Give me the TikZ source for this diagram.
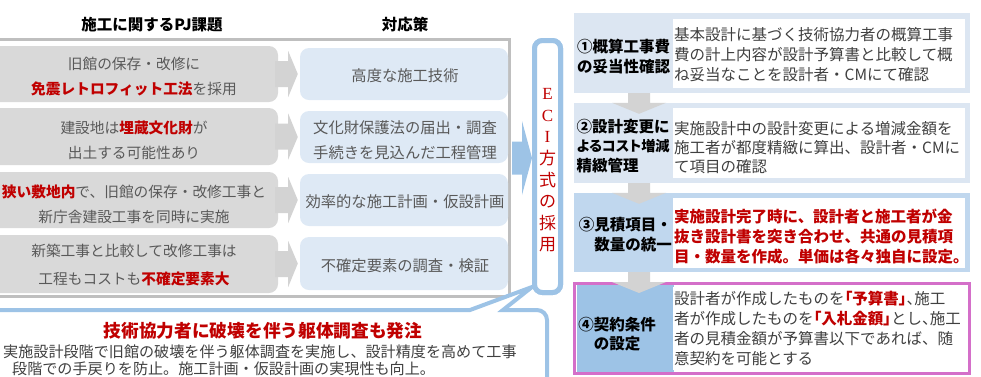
\documentclass[tikz,border=0pt]{standalone}
\usepackage{fontspec}
\setmainfont{Noto Sans CJK JP}
\newfontfamily\jpp[RawFeature=+palt]{Noto Sans CJK JP}
\newfontfamily\serifl{Liberation Serif}
\usetikzlibrary{calc}
\definecolor{gfill}{HTML}{D9D9D9}
\definecolor{framegray}{HTML}{BFBFBF}
\definecolor{agray}{HTML}{D3D3D3}
\definecolor{lblue}{HTML}{DEE9F5}
\definecolor{obox}{HTML}{DCE6F2}
\definecolor{mblue}{HTML}{C0D7EE}
\definecolor{bblue}{HTML}{9DC3E6}
\definecolor{ered}{HTML}{C00000}
\definecolor{tgray}{HTML}{595959}
\definecolor{dgray}{HTML}{404040}
\definecolor{mag}{HTML}{D46FC9}
\newcommand\redb[1]{\textcolor{ered}{\bfseries #1}}
\newcommand\hp[1]{{\jpp #1}}
\begin{document}
\begin{tikzpicture}[x=1pt,y=-1pt,
 lbox/.style={fill=gfill, rounded corners=9pt, minimum width=290pt, inner sep=0pt},
 rbox/.style={fill=lblue, rounded corners=9pt, minimum width=208pt, inner sep=0pt},
 ltext/.style={align=center, text=tgray, inner sep=0pt, font=\fontsize{14.7}{25}\selectfont},
 rtext/.style={align=center, text=tgray, inner sep=0pt, font=\fontsize{15.3}{25}\selectfont},
 hdr/.style={inner sep=0pt, font=\fontsize{15.5}{18}\selectfont\bfseries},
 chev/.style={fill=agray},
 obx/.style={fill=obox, minimum width=396pt, minimum height=80pt, inner sep=0pt},
 wbx/.style={fill=white, minimum width=292pt, inner sep=0pt},
 btext/.style={anchor=west, align=left, inner sep=0pt, text=dgray, font=\fontsize{15.5}{20}\selectfont},
 lbl/.style={inner sep=0pt, font=\fontsize{15.5}{19.5}\selectfont\bfseries},
 downarrow/.style={fill=agray}
]
\useasboundingbox (0,0) rectangle (981,376);
\clip (0,0) rectangle (981,376);

% headers
\node[hdr] (h1) at (152,24.5) {施工に関するPJ課題};
\node[hdr] (h2) at (405,24.5) {対応策};

% frame
\node[draw=framegray, line width=3pt, minimum width=514pt, minimum height=257pt, inner sep=0pt] (frame) at (252,168) {};

% left boxes
\node[lbox, minimum height=56pt] (l1) at (133,74) {};
\node[lbox, minimum height=57pt] (l2) at (133,136.5) {};
\node[lbox, minimum height=56pt] (l3) at (133,200) {};
\node[lbox, minimum height=58pt] (l4) at (133,264) {};
% right boxes
\node[rbox, minimum height=52pt] (r1) at (404,74) {};
\node[rbox, minimum height=52pt] (r2) at (404,137) {};
\node[rbox, minimum height=52pt] (r3) at (404,200) {};
\node[rbox, minimum height=53pt] (r4) at (404,263.5) {};

% chevrons
\foreach \i in {1,2,3,4}{
 \fill[chev] ($(l\i.east)+(-3,-13)$) -- ($(l\i.east)+(10,-13)$) -- ($(l\i.east)+(10,-23)$) -- ($(r\i.west)+(-2,0)$) -- ($(l\i.east)+(10,23)$) -- ($(l\i.east)+(10,13)$) -- ($(l\i.east)+(-3,13)$) -- cycle;
}

% row texts
\node[ltext] (l1t) at (134,76.5) {旧館の保存・改修に\\\redb{免震レトロフィット工法}を採用};
\node[ltext] (l2t) at (134,140) {建設地は\redb{埋蔵文化財}が\\出土する可能性あり};
\node[ltext] (l3t) at (134,204) {\redb{狭い敷地内}で、旧館の保存・改修工事と\\新庁舎建設工事を同時に実施};
\node[ltext, font=\fontsize{14.7}{28}\selectfont] (l4t) at (134,265.5) {新築工事と比較して改修工事は\\工程もコストも\redb{不確定要素大}};

\node[rtext] (r1t) at (405,75.5) {高度な施工技術};
\node[rtext] (r2t) at (405,140) {文化財保護法の届出・調査\\手続きを見込んだ工程管理};
\node[rtext] (r3t) at (405,201.5) {効率的な施工計画・仮設計画};
\node[rtext] (r4t) at (405,266) {不確定要素の調査・検証};

% ECI box
\node[draw=bblue, line width=5pt, rounded corners=8pt, fill=white, minimum width=26pt, minimum height=252pt, inner sep=0pt] (eci) at (547.5,166.5) {};

% callout
\coordinate (ctip) at ($(eci.south west)+(0,-8)$);
\draw[bblue, line width=4pt, fill=white] (-10,310) -- (470,310) -- (ctip) -- (503,310) -- (510,310) [rounded corners=10pt] -- (547,310) -- (547,430) -- (-10,430) -- cycle;
\node[inner sep=0pt, text=ered, font=\fontsize{17.7}{20}\selectfont\bfseries] (ct) at (263,331) {技術協力者に破壊を伴う躯体調査も発注};
\node[anchor=west, align=left, inner sep=0pt, text=dgray, font=\fontsize{15.1}{17}\selectfont] (cb) at (3,360.5) {実施設計段階で旧館の破壊を伴う躯体調査を実施し、設計精度を高めて工事\\\hspace*{9pt}段階での手戻りを防止。施工計画・仮設計画の実現性も向上。};

% ECI box redrawn over the pointer tip
\node[draw=bblue, line width=5pt, rounded corners=8pt, fill=white, minimum width=26pt, minimum height=252pt, inner sep=0pt] (eci2) at (eci.center) {};
\node[text=ered, align=center, inner sep=0pt, font=\fontsize{17}{21.6}\selectfont] (ecit) at (547.5,170.5) {{\serifl E}\\{\serifl C}\\{\serifl I}\\方\\式\\の\\採\\用};

% blue arrow
\coordinate (bt) at ($(eci.west)+(0,-8.5)$);
\fill[bblue] ($(bt)+(-20,-16.5)$) -- ($(bt)+(-10,-16.5)$) -- ($(bt)+(-10,-37)$) -- (bt) -- ($(bt)+(-10,37)$) -- ($(bt)+(-10,16.5)$) -- ($(bt)+(-20,16.5)$) -- cycle;

% right column
\node[obx] (b1) at (772,53) {};
\node[wbx, minimum height=69pt] (w1) at (819,53.5) {};
\node[obx] (b2) at (772,143) {};
\node[wbx, minimum height=70pt] (w2) at (819,143) {};
\node[obx, fill=mblue, minimum height=79pt] (b3) at (772,232.5) {};
\node[wbx, minimum height=70pt] (w3) at (819,233) {};
\node[draw=mag, line width=3pt, minimum width=395pt, minimum height=90pt, inner sep=0pt] (b4) at (772,328.5) {};
\node[fill=bblue, minimum width=97pt, minimum height=87pt, inner sep=0pt] (c4bg) at (625,328.5) {};
\node[wbx, minimum height=83pt] (w4) at (819,328.5) {};

% down arrows
\foreach \a/\b in {b1/b2,b2/b3,b3/b4}{
 \fill[downarrow] ($(\a.south)+(-144,0)$) -- ($(\b.north)+(-144,0)$) -- ($(\b.north)+(-160,0)$) -- ($(\b.north)+(-133,11)$) -- ($(\b.north)+(-106,0)$) -- ($(\b.north)+(-122,0)$) -- ($(\a.south)+(-122,0)$) -- cycle;
}

% labels
\node[lbl, anchor=west, align=left] (c1) at (577,56.5) {①概算工事費\\の妥当性確認};
\node[lbl, anchor=west, align=left, font=\jpp\fontsize{15.5}{19.5}\selectfont\bfseries] (c2) at (576.5,146) {②設計変更に\\{\fontsize{14.2}{19.5}\selectfont よるコスト増減}\\精緻管理};
\node[lbl, anchor=east, align=right] (c3) at (672,234.5) {③見積項目・\\数量の統一};
\node[lbl, align=center] (c4) at (617,334) {④契約条件\\の設定};

% texts
\node[btext] (t1) at (674,55) {基本設計に基づく技術協力者の概算工事\\費の計上内容が設計予算書と比較して概\\ね妥当なことを設計者・CMにて確認};
\node[btext, font=\fontsize{15.5}{19}\selectfont] (t2) at (674,147.5) {実施設計中の設計変更による増減金額を\\施工者が都度精緻に算出、設計者・CMに\\て項目の確認};
\node[btext, text=ered, font=\fontsize{15.5}{20}\selectfont\bfseries] (t3) at (674,236.5) {実施設計完了時に、設計者と施工者が金\\抜き設計書を突き合わせ、共通の見積項\\目・数量を作成。単価は各々独自に設定。};
\node[btext] (t4) at (674,328.5) {設計者が作成したものを\redb{\hp{「}予算書\hp{」}}\hp{、}施工\\者が作成したものを\redb{\hp{「}入札金額\hp{」}}とし\hp{、}施工\\者の見積金額が予算書以下であれば、随\\意契約を可能とする};
\end{tikzpicture}
\end{document}
